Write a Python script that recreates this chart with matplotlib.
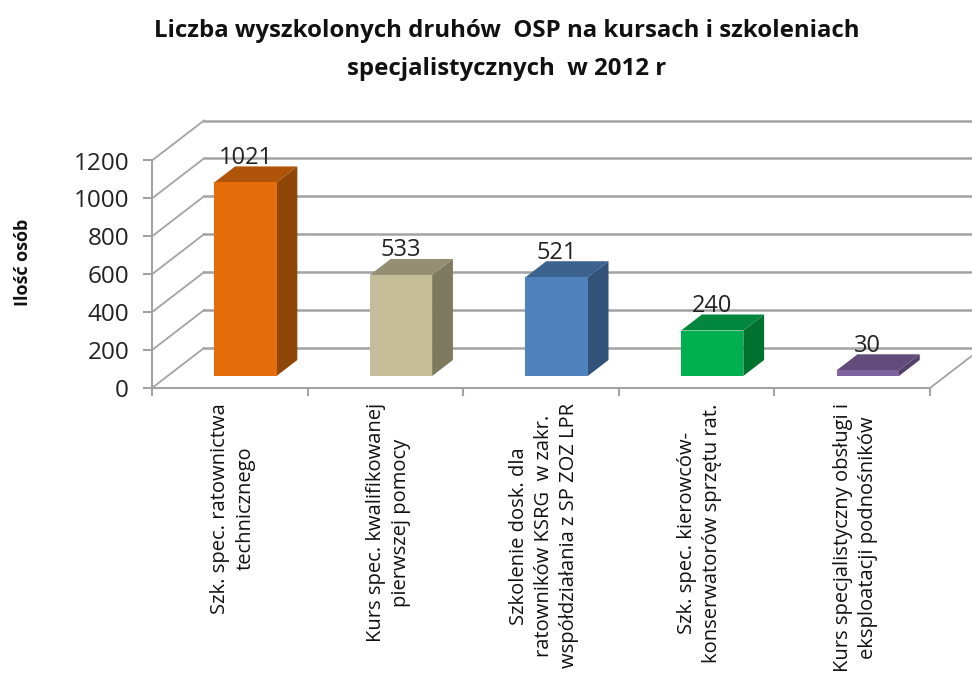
import matplotlib
matplotlib.use("Agg")
import matplotlib.pyplot as plt
from matplotlib.patches import Polygon

plt.rcParams['font.family'] = ['Open Sans', 'DejaVu Sans']

# dane z wykresu
kategorie = ["Szk. spec. ratownictwa\ntechnicznego",
             "Kurs spec. kwalifikowanej\npierwszej pomocy",
             "Szkolenie dosk. dla\nratowników KSRG  w zakr.\nwspółdziałania z SP ZOZ LPR",
             "Szk. spec. kierowców-\nkonserwatorów sprzętu rat.",
             "Kurs specjalistyczny obsługi i\neksploatacji podnośników"]
wartosci = [1021, 533, 521, 240, 30]
yticks = [0, 200, 400, 600, 800, 1000, 1200]
kolor_przod = ['#E46C0A', '#C4BD97', '#4F81BD', '#00B050', '#8064A2']
kolor_gora = ['#AE5308', '#948F72', '#3C6290', '#00863D', '#614C7B']
kolor_bok = ['#8F4707', '#7E7A60', '#325279', '#00712F', '#52406A']

SZARY = '#A3A3A3'
W, H = 972, 677

fig = plt.figure(figsize=(W / 100, H / 100), dpi=100)
ax = fig.add_axes([152 / W, 1 - 388 / H, 778 / W, 227.5 / H])
ax.set_xlim(0, 5)
ax.set_ylim(0, 1200)

# przesuniecie glebokosci "3D" w jednostkach danych
gl_x = 52 / 155.6
gl_y = 40 / (227.5 / 1200)

# sciany i siatka
for v in yticks:
    ax.plot([0, gl_x], [v, v + gl_y], color=SZARY, lw=1.3, clip_on=False, zorder=1)
    ax.plot([gl_x, 5 + gl_x], [v + gl_y, v + gl_y], color=SZARY, lw=1.8, clip_on=False, zorder=1)
ax.plot([5, 5 + gl_x], [0, gl_y], color=SZARY, lw=1.3, clip_on=False, zorder=1)

# slupki
szer = 0.4
for i, v in enumerate(wartosci):
    x0 = i + 0.5 - szer / 2 + 0.3 * gl_x
    x1 = x0 + szer
    y0 = 0.3 * gl_y
    y1 = y0 + v
    dx = 0.4 * gl_x
    dy = 0.4 * gl_y
    przod = [(x0, y0), (x1, y0), (x1, y1), (x0, y1)]
    gora = [(x0, y1), (x1, y1), (x1 + dx, y1 + dy), (x0 + dx, y1 + dy)]
    bok = [(x1, y0), (x1 + dx, y0 + dy), (x1 + dx, y1 + dy), (x1, y1)]
    ax.add_patch(Polygon(bok, fc=kolor_bok[i], ec='none', clip_on=False, zorder=3))
    ax.add_patch(Polygon(gora, fc=kolor_gora[i], ec='none', clip_on=False, zorder=3))
    ax.add_patch(Polygon(przod, fc=kolor_przod[i], ec='none', clip_on=False, zorder=3))
    ax.annotate(str(v), ((x0 + x1) / 2, y1 + dy), xytext=(0, -2.5), textcoords='offset points',
                ha='center', va='bottom', fontsize=17, color='#222222', zorder=4,
                annotation_clip=False)

for s in ['top', 'right']:
    ax.spines[s].set_visible(False)
for s in ['left', 'bottom']:
    ax.spines[s].set_color(SZARY)
    ax.spines[s].set_linewidth(1.5)
ax.patch.set_alpha(0)

ax.set_yticks(yticks)
ax.set_yticklabels([str(v) for v in yticks], fontsize=17.5, color='#222222')
ax.tick_params(axis='y', length=6.5, width=1.5, color=SZARY, pad=10)

ax.set_xticks(range(6))
ax.set_xticklabels([])
ax.tick_params(axis='x', which='major', length=6, width=1.5, color=SZARY)
ax.set_xticks([i + 0.52 for i in range(5)], minor=True)
ax.set_xticklabels(kategorie, minor=True, rotation=90, fontsize=14.5, color='#111111',
                   ha='center', va='top', multialignment='center', linespacing=1.33)
ax.tick_params(axis='x', which='minor', length=0, pad=11)

fig.text(23 / W, 1 - 262 / H, "Ilość osób", rotation=90, ha='center', va='center',
         fontsize=13, fontweight='bold', color='#111111')
fig.text(507 / W, 1 - 50 / H,
         "Liczba wyszkolonych druhów  OSP na kursach i szkoleniach\nspecjalistycznych  w 2012 r",
         ha='center', va='center', multialignment='center', fontsize=17.3,
         fontweight='bold', color='#111111', linespacing=1.8)

fig.savefig('out.png', dpi=100)
